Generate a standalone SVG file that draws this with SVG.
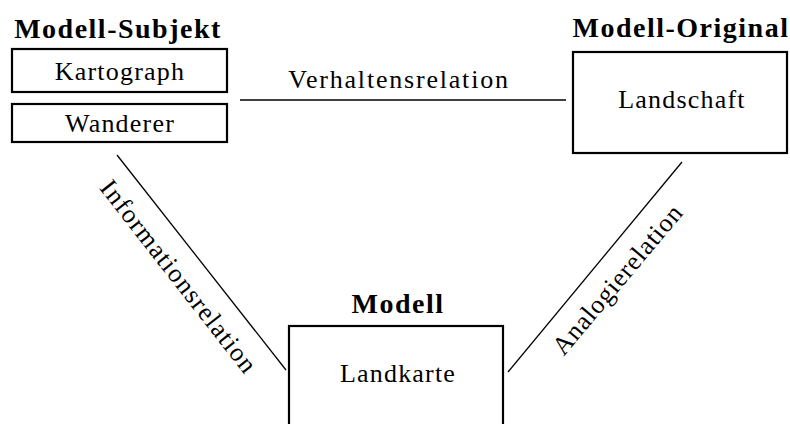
<svg xmlns="http://www.w3.org/2000/svg" width="790" height="424" viewBox="0 0 790 424">
  <style>
    .box { fill: #fff; stroke: #000; stroke-width: 2.2; }
    .title { font-family: "Liberation Serif", "Times New Roman", serif; font-weight: bold; font-size: 28px; letter-spacing: 1.5px; text-anchor: middle; fill: #000; }
    .label { font-family: "Liberation Serif", "Times New Roman", serif; font-size: 26px; letter-spacing: 1.2px; text-anchor: middle; fill: #000; }
    .edge { stroke: #000; stroke-width: 1.3; fill: none; }
  </style>
  <rect width="790" height="424" fill="#fff"/>

  <!-- relations between the three parties -->
  <g id="connectors">
    <line class="edge" x1="240" y1="100" x2="566" y2="100"/>
    <text class="label" x="399" y="88" style="letter-spacing:1.8px">Verhaltensrelation</text>
    <line class="edge" x1="117" y1="155" x2="286" y2="370"/>
    <text class="label" transform="translate(172,282) rotate(52)" x="0" y="0">Informationsrelation</text>
    <line class="edge" x1="682" y1="162" x2="508" y2="372"/>
    <text class="label" transform="translate(624,285) rotate(-50)" x="0" y="0" style="letter-spacing:0.8px">Analogierelation</text>
  </g>

  <!-- subject of the model -->
  <g id="modell-subjekt">
    <text class="title" x="118" y="38">Modell-Subjekt</text>
    <rect class="box" x="12" y="49" width="215" height="43"/>
    <text class="label" x="120" y="80">Kartograph</text>
    <rect class="box" x="12" y="104" width="215" height="38"/>
    <text class="label" x="120" y="132">Wanderer</text>
  </g>

  <!-- original being modelled -->
  <g id="modell-original">
    <text class="title" x="681" y="37">Modell-Original</text>
    <rect class="box" x="573" y="52" width="214" height="101"/>
    <text class="label" x="682" y="108">Landschaft</text>
  </g>

  <!-- the model itself -->
  <g id="modell">
    <text class="title" x="398" y="313">Modell</text>
    <rect class="box" x="289" y="326" width="214" height="110"/>
    <text class="label" x="398" y="382">Landkarte</text>
  </g>
</svg>
